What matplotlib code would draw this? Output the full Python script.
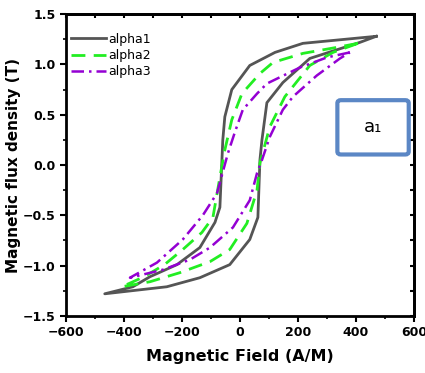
import numpy as np
import matplotlib.pyplot as plt
from matplotlib.patches import FancyBboxPatch

# alpha1 loop: descending branch then ascending branch
h1 = [470, 217, 121, 34, -28, -52, -59, -62, -69, -86, -138, -217, -310, -369, -466,
      -252, -138, -35, 34, 62, 69, 76, 93, 148, 241, 414, 470]
b1 = [1.28, 1.21, 1.12, 0.99, 0.75, 0.48, 0.25, 0.05, -0.42, -0.57, -0.82, -0.99, -1.11, -1.21, -1.28,
      -1.21, -1.12, -0.99, -0.74, -0.52, 0.05, 0.25, 0.62, 0.82, 1.06, 1.22, 1.28]

# alpha2 loop
h2 = [407, 334, 217, 114, 69, 7, -28, -52, -69, -93, -131, -197, -260, -330, -407,
      -310, -207, -103, -35, 24, 59, 69, 103, 155, 241, 321, 407]
b2 = [1.21, 1.17, 1.11, 1.02, 0.91, 0.71, 0.45, 0.15, -0.12, -0.52, -0.67, -0.84, -0.99, -1.11, -1.21,
      -1.16, -1.07, -0.96, -0.84, -0.58, -0.25, 0.02, 0.38, 0.68, 0.99, 1.12, 1.21]

# alpha3 loop
h3 = [379, 300, 207, 93, 59, 10, -17, -41, -62, -79, -128, -197, -286, -379,
      -265, -172, -103, -24, 34, 59, 76, 103, 148, 183, 265, 345, 379]
b3 = [1.12, 1.07, 0.97, 0.81, 0.71, 0.55, 0.33, 0.12, -0.10, -0.28, -0.50, -0.74, -0.97, -1.12,
      -1.04, -0.94, -0.82, -0.62, -0.35, -0.08, 0.05, 0.28, 0.55, 0.68, 0.89, 1.06, 1.12]

fig = plt.figure(figsize=(4.25, 3.73), dpi=100)
ax = fig.add_axes([0.155, 0.153, 0.819, 0.809])

ax.plot(h1, b1, color='#555555', lw=2, label='alpha1')
ax.plot(h2, b2, color='#22ee22', lw=2, ls=(0, (5, 3)), label='alpha2')
ax.plot(h3, b3, color='#9400d3', lw=1.8, ls=(0, (5, 2, 1, 2)), label='alpha3')

ax.set_xlim(-600, 600)
ax.set_ylim(-1.5, 1.5)
ax.set_xticks([-600, -400, -200, 0, 200, 400, 600])
ax.set_yticks([-1.5, -1.0, -0.5, 0.0, 0.5, 1.0, 1.5])
ax.set_xticks(np.arange(-500, 600, 200), minor=True)
ax.set_yticks(np.arange(-1.25, 1.5, 0.5), minor=True)
ax.tick_params(which='major', direction='out', length=4, width=1.5, labelsize=9)
ax.tick_params(which='minor', direction='out', length=2.5, width=1.2)
for lab in ax.get_xticklabels() + ax.get_yticklabels():
    lab.set_fontweight('bold')
for sp in ax.spines.values():
    sp.set_linewidth(2)

# inward ticks on top and right
top = ax.secondary_xaxis('top')
top.set_xticks([-600, -400, -200, 0, 200, 400, 600])
top.set_xticks(np.arange(-500, 600, 200), minor=True)
top.tick_params(which='both', direction='in', length=3, width=1.5, labeltop=False)
right = ax.secondary_yaxis('right')
right.set_yticks([-1.5, -1.0, -0.5, 0.0, 0.5, 1.0, 1.5])
right.set_yticks(np.arange(-1.25, 1.5, 0.5), minor=True)
right.tick_params(which='both', direction='in', length=3, width=1.5, labelright=False)
for s in (top, right):
    for sp in s.spines.values():
        sp.set_linewidth(2)

ax.set_xlabel('Magnetic Field (A/M)', fontsize=11.5, fontweight='bold', labelpad=7)
ax.set_ylabel('Magnetic flux density (T)', fontsize=11, fontweight='bold')
ax.yaxis.set_label_coords(-0.13, 0.5)

ax.legend(loc='upper left', frameon=False, fontsize=9, handlelength=2.8,
          handletextpad=0.2, labelspacing=0.25, borderaxespad=0,
          bbox_to_anchor=(0.0, 0.955))

box = FancyBboxPatch((0.78, 0.535), 0.205, 0.18, transform=ax.transAxes,
                     boxstyle='round,pad=0,rounding_size=0.01',
                     facecolor='white', edgecolor='#5b87c5', lw=3, zorder=5)
ax.add_patch(box)
ax.text(0.882, 0.625, 'a\u2081', transform=ax.transAxes, ha='center', va='center',
        fontsize=13, zorder=6)

fig.savefig('out.png', dpi=100)
